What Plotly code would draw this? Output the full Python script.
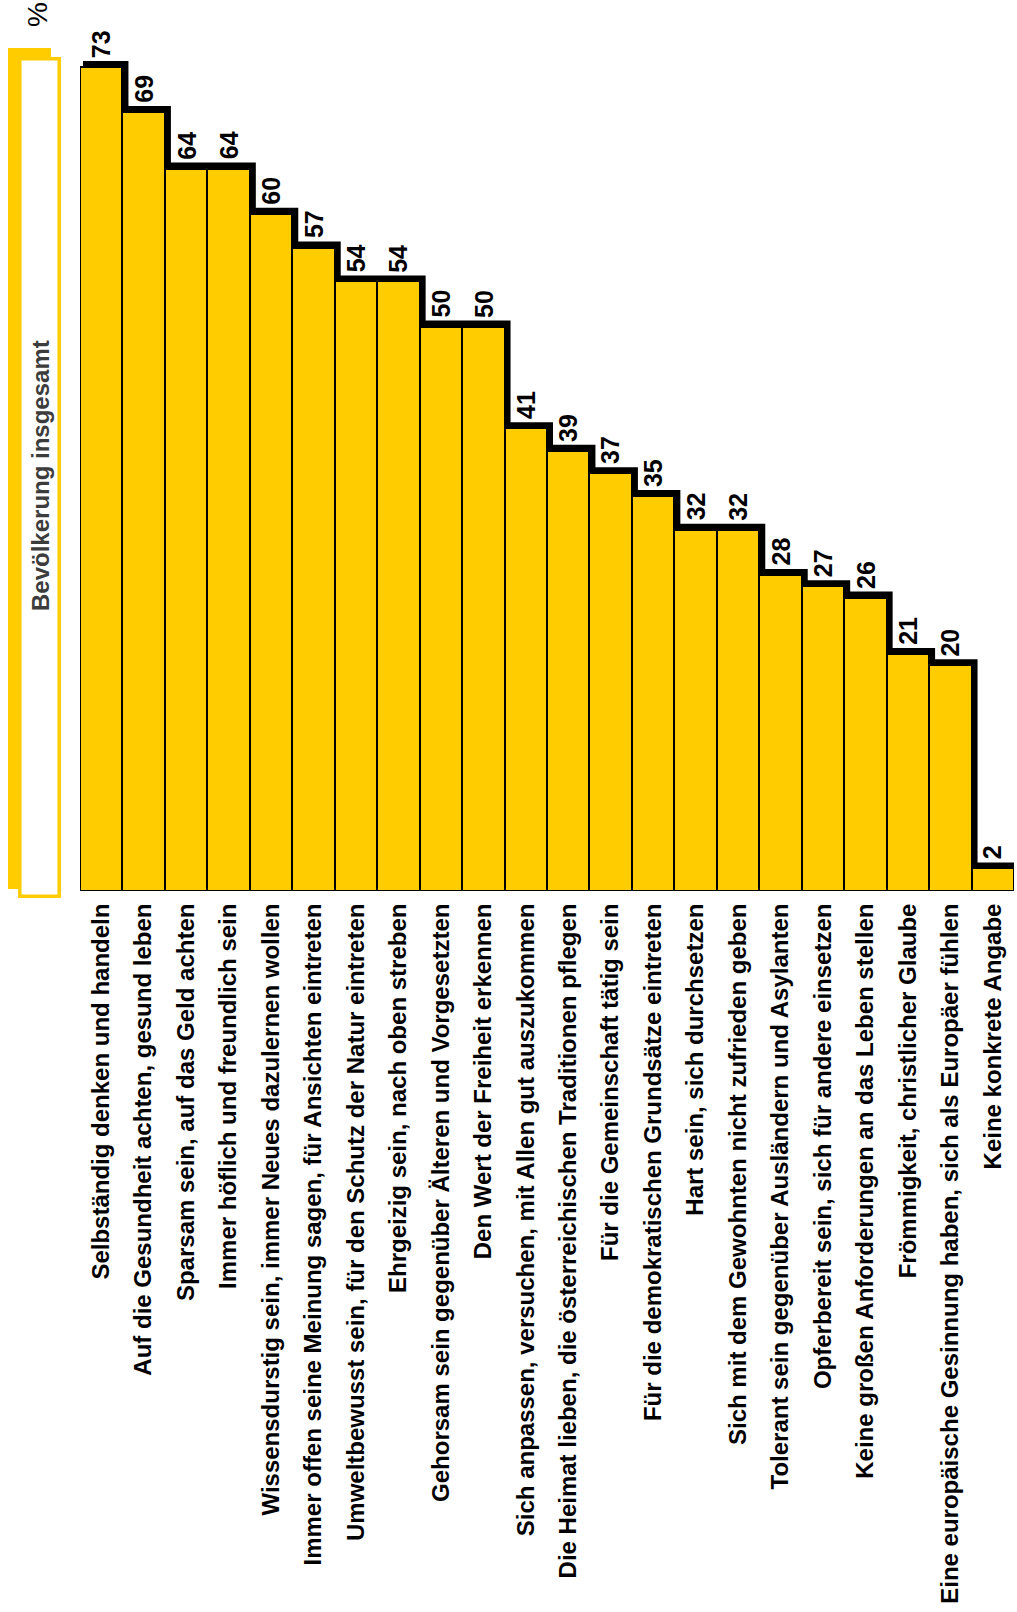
import plotly.graph_objects as go

# Survey: which values should be passed on (in %), total population
categories = [
    "Selbständig denken und handeln",
    "Auf die Gesundheit achten, gesund leben",
    "Sparsam sein, auf das Geld achten",
    "Immer höflich und freundlich sein",
    "Wissensdurstig sein, immer Neues dazulernen wollen",
    "Immer offen seine Meinung sagen, für Ansichten eintreten",
    "Umweltbewusst sein, für den Schutz der Natur eintreten",
    "Ehrgeizig sein, nach oben streben",
    "Gehorsam sein gegenüber Älteren und Vorgesetzten",
    "Den Wert der Freiheit erkennen",
    "Sich anpassen, versuchen, mit Allen gut auszukommen",
    "Die Heimat lieben, die österreichischen Traditionen pflegen",
    "Für die Gemeinschaft tätig sein",
    "Für die demokratischen Grundsätze eintreten",
    "Hart sein, sich durchsetzen",
    "Sich mit dem Gewohnten nicht zufrieden geben",
    "Tolerant sein gegenüber Ausländern und Asylanten",
    "Opferbereit sein, sich für andere einsetzen",
    "Keine großen Anforderungen an das Leben stellen",
    "Frömmigkeit, christlicher Glaube",
    "Eine europäische Gesinnung haben, sich als Europäer fühlen",
    "Keine konkrete Angabe",
]
values = [73, 69, 64, 64, 60, 57, 54, 54, 50, 50, 41, 39, 37, 35, 32, 32, 28, 27, 26, 21, 20, 2]
series_name = "Bevölkerung insgesamt"
unit_label = "%"

W, H = 1017, 1612
M_L, M_R, M_T, M_B = 80, 3, 0, 721
YMAX = 78.93
YELLOW = "#FFCC00"
FONT = "Liberation Sans, Arial, sans-serif"

n = len(categories)
idx = list(range(n))
plot_w = W - M_L - M_R
plot_h = H - M_T - M_B
px_x = plot_w / n            # pixels per category
px_y = plot_h / YMAX         # pixels per percent

# step outline, shifted a few pixels up/right like a drop shadow
dx = 3 / px_x
dy = 3 / px_y
step_x, step_y = [], []
for i, v in zip(idx, values):
    step_x += [i - 0.5 + dx, i + 0.5 + dx]
    step_y += [v + dy, v + dy]

fig = go.Figure()
fig.add_trace(go.Bar(
    x=idx, y=values, width=1.0,
    marker=dict(color=YELLOW, line=dict(color="black", width=2)),
    name=series_name, showlegend=False, hoverinfo="skip",
))
fig.add_trace(go.Scatter(
    x=step_x, y=step_y, mode="lines",
    line=dict(color="black", width=6),
    cliponaxis=False, showlegend=False, hoverinfo="skip",
))

annotations = []
for i, v in zip(idx, values):
    annotations.append(dict(
        x=i, y=v, xref="x", yref="y", text=str(v), showarrow=False,
        textangle=-90, yanchor="bottom", xanchor="center", yshift=7,
        font=dict(family=FONT, size=25, color="black", weight="bold"),
    ))


def px2paper_x(p):
    return (p - M_L) / plot_w


def px2paper_y(p):
    return 1 - (p - M_T) / plot_h


# legend box on the left
shapes = [
    dict(type="rect", xref="paper", yref="paper",
         x0=px2paper_x(8), x1=px2paper_x(51), y0=px2paper_y(889), y1=px2paper_y(48),
         fillcolor=YELLOW, line=dict(width=0), layer="above"),
    dict(type="rect", xref="paper", yref="paper",
         x0=px2paper_x(19.8), x1=px2paper_x(59.2), y0=px2paper_y(896.2), y1=px2paper_y(58.8),
         fillcolor="white", line=dict(color=YELLOW, width=3.5), layer="above"),
]
annotations.append(dict(
    x=px2paper_x(40), y=px2paper_y(476), xref="paper", yref="paper",
    text=series_name, showarrow=False, textangle=-90,
    xanchor="center", yanchor="middle",
    font=dict(family=FONT, size=24, color="#3c3c3c", weight="bold"),
))
annotations.append(dict(
    x=px2paper_x(37), y=px2paper_y(15), xref="paper", yref="paper",
    text=unit_label, showarrow=False, textangle=-90,
    xanchor="center", yanchor="middle",
    font=dict(family=FONT, size=28, color="black"),
))

fig.update_layout(
    width=W, height=H,
    margin=dict(l=M_L, r=M_R, t=M_T, b=M_B, pad=0),
    paper_bgcolor="white", plot_bgcolor="white",
    bargap=0, showlegend=False,
    annotations=annotations, shapes=shapes,
    xaxis=dict(
        range=[-0.5, n - 0.5], tickmode="array", tickvals=idx, ticktext=categories,
        tickangle=-90, ticks="outside", ticklen=2, tickcolor="rgba(0,0,0,0)",
        tickfont=dict(family=FONT, size=24, color="black", weight="bold"),
        showgrid=False, zeroline=False, showline=False, automargin=False, fixedrange=True,
    ),
    yaxis=dict(
        range=[0, YMAX], visible=False, showgrid=False, zeroline=False,
        automargin=False, fixedrange=True,
    ),
)

fig.write_html("out.html")
